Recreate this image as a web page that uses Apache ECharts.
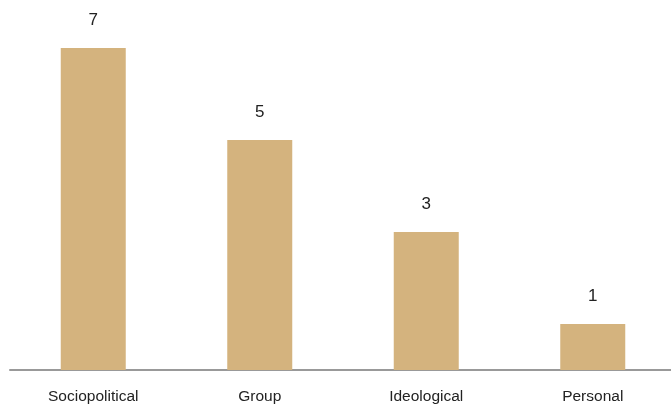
<!DOCTYPE html>
<html>
<head>
<meta charset="utf-8">
<script src="https://cdn.jsdelivr.net/npm/echarts@6/dist/echarts.min.js"></script>
<style>
  html, body { margin: 0; padding: 0; background: #fff; overflow: hidden; }
  /* the plot runs slightly past the right edge of the page */
  #chart { width: 676px; height: 405px; }
</style>
</head>
<body>
<div id="chart"></div>
<script>
// Categories and their counts
const categories = ['Sociopolitical', 'Group', 'Ideological', 'Personal'];
const counts = [7, 5, 3, 1];

const chart = echarts.init(document.getElementById('chart'), null, { renderer: 'canvas' });

chart.setOption({
  animation: false,
  grid: { left: 10, right: 0, top: 48, bottom: 35, containLabel: false },
  xAxis: {
    type: 'category',
    data: categories,
    axisTick: { show: false },
    axisLine: { lineStyle: { color: '#999999', width: 2 } },
    axisLabel: {
      color: '#222222',
      fontFamily: 'Liberation Sans, Arial, sans-serif',
      fontSize: 15.5,
      margin: 19
    }
  },
  yAxis: {
    type: 'value',
    min: 0,
    max: 7,
    show: false,
    splitLine: { show: false }
  },
  series: [{
    type: 'bar',
    data: counts,
    barWidth: 65,
    itemStyle: { color: '#D4B37E' },
    label: {
      show: true,
      position: 'top',
      distance: 19,
      color: '#222222',
      fontFamily: 'Liberation Sans, Arial, sans-serif',
      fontSize: 17
    }
  }]
});
</script>
</body>
</html>
